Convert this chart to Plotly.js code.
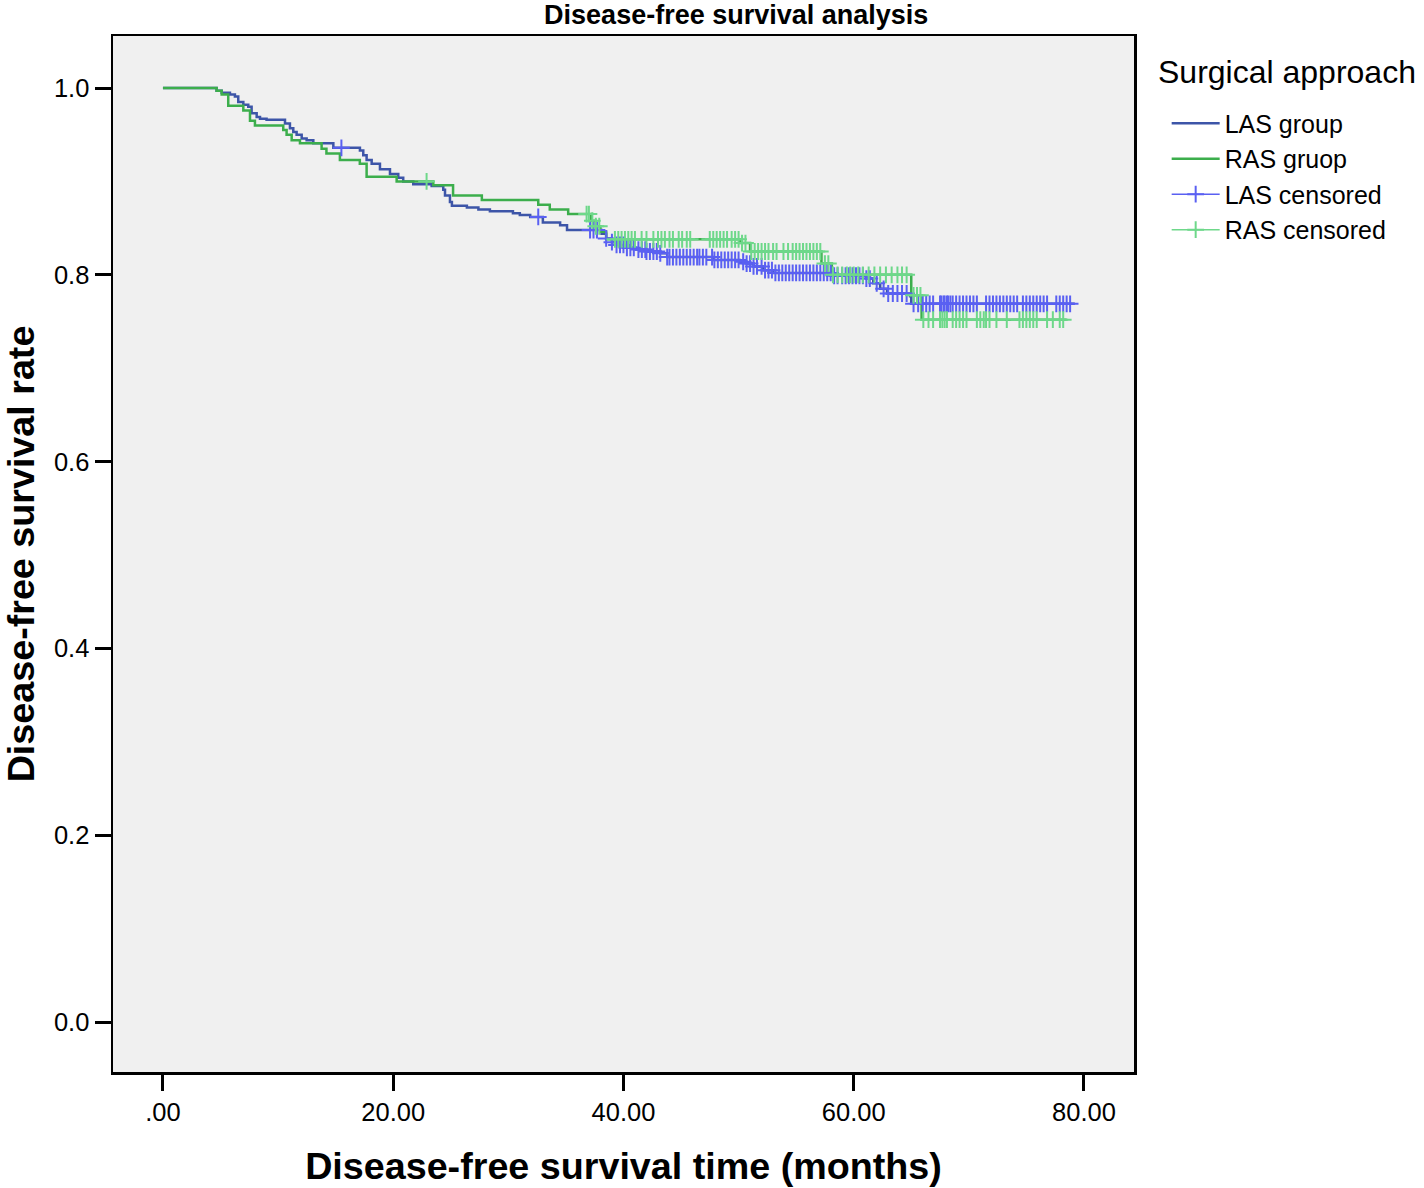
<!DOCTYPE html>
<html>
<head>
<meta charset="utf-8">
<script src="https://cdn.plot.ly/plotly-3.0.1.min.js"></script>
<style>html,body{margin:0;padding:0;background:#fff;}#chart{width:1424px;height:1188px;}</style>
</head>
<body>
<div id="chart"></div>
<script>
// LAS group (event times in months, survival after each step)
const lasTimes = [0, 4.66, 5.1, 5.82, 6.25, 6.54, 6.98, 7.41, 7.70, 8.14, 8.43, 9.0, 10.6, 11.03, 11.32, 11.61, 12.05, 12.48, 13.06, 14.8, 17.11, 17.4, 17.69, 18.13, 18.85, 19.72, 20.44, 20.87, 21.74, 23.34, 24.35, 24.5, 24.93, 25.1, 26.4, 27.4, 28.4, 30.4, 31.0, 31.9, 33.0, 34.5, 35.1, 38.1, 38.5, 39.0, 39.4, 40.3, 41.1, 42.0, 43.2, 43.8, 47.8, 50.1, 50.7, 51.3, 52.1, 53.0, 58.2, 61.1, 61.7, 62.3, 62.9, 64.9, 65.0, 79.2];
const lasSurv  = [1.0, 0.997, 0.995, 0.993, 0.991, 0.985, 0.982, 0.980, 0.973, 0.969, 0.967, 0.966, 0.962, 0.957, 0.953, 0.950, 0.946, 0.944, 0.941, 0.936, 0.933, 0.928, 0.923, 0.919, 0.913, 0.908, 0.904, 0.900, 0.897, 0.895, 0.891, 0.885, 0.878, 0.874, 0.872, 0.870, 0.868, 0.866, 0.864, 0.862, 0.856, 0.853, 0.848, 0.844, 0.839, 0.835, 0.832, 0.829, 0.827, 0.825, 0.823, 0.819, 0.816, 0.814, 0.812, 0.809, 0.805, 0.802, 0.799, 0.796, 0.791, 0.785, 0.780, 0.777, 0.769, 0.769];

// RAS group
const rasTimes = [0, 4.66, 5.1, 5.67, 6.98, 7.56, 7.99, 10.45, 10.74, 11.18, 11.9, 13.78, 14.2, 15.37, 17.1, 17.69, 20.3, 23.48, 25.2, 27.7, 32.6, 33.6, 35.2, 37.2, 37.6, 38.0, 38.5, 50.1, 51.0, 57.2, 58.1, 65.0, 65.9, 78.5];
const rasSurv  = [1.0, 0.997, 0.993, 0.981, 0.976, 0.965, 0.960, 0.955, 0.950, 0.944, 0.941, 0.935, 0.930, 0.923, 0.919, 0.905, 0.900, 0.896, 0.885, 0.880, 0.875, 0.870, 0.865, 0.858, 0.852, 0.846, 0.838, 0.834, 0.825, 0.812, 0.800, 0.778, 0.752, 0.752];

// Censored times
const lasCensored = [15.5, 32.6, 37.1, 37.4, 37.7, 38.5, 39.0, 39.4, 39.7, 40.0, 40.3, 40.6, 40.9, 41.3, 41.6, 41.9, 42.0, 42.3, 42.6, 42.9, 43.2, 43.8, 44.0, 44.3, 44.6, 44.9, 45.2, 45.5, 45.8, 46.1, 46.4, 46.6, 46.9, 47.2, 47.7, 47.9, 48.2, 48.5, 48.8, 49.1, 49.4, 49.7, 50.0, 50.4, 50.7, 51.0, 51.3, 51.6, 52.0, 52.3, 52.6, 52.9, 53.2, 53.5, 53.8, 54.1, 54.4, 54.7, 55.0, 55.3, 55.6, 55.9, 56.2, 56.5, 56.8, 57.1, 57.4, 57.7, 58.0, 58.3, 58.6, 59.0, 59.3, 59.6, 59.9, 60.2, 60.5, 60.8, 61.1, 61.4, 62.0, 62.6, 63.0, 63.4, 63.8, 64.2, 64.6, 65.2, 65.6, 66.0, 66.3, 66.6, 66.9, 67.5, 67.6, 67.8, 67.9, 68.1, 68.2, 68.4, 68.6, 68.9, 69.2, 69.5, 69.8, 70.1, 70.4, 70.7, 71.5, 71.8, 72.1, 72.4, 72.7, 73.0, 73.3, 73.6, 73.9, 74.2, 74.7, 75.0, 75.3, 75.6, 75.9, 76.2, 76.5, 76.8, 77.6, 77.9, 78.2, 78.5, 78.8];
const rasCensored = [22.9, 36.8, 37.0, 37.3, 37.6, 37.9, 39.26, 39.55, 39.84, 40.13, 40.42, 40.71, 41.0, 41.58, 42.0, 42.6, 43.0, 43.3, 43.6, 44.0, 44.3, 44.8, 45.1, 45.5, 45.8, 47.5, 47.8, 48.1, 48.4, 48.7, 49.0, 49.4, 49.7, 50.0, 50.3, 50.6, 51.1, 51.4, 51.7, 52.0, 52.3, 52.6, 53.0, 53.3, 53.9, 54.3, 54.7, 55.0, 55.3, 55.6, 55.9, 56.2, 56.5, 56.8, 57.1, 57.5, 57.8, 58.2, 58.6, 59.0, 59.4, 59.7, 60.0, 60.4, 60.8, 61.3, 61.8, 62.3, 62.8, 63.3, 63.8, 64.2, 64.6, 65.2, 65.5, 65.8, 66.05, 66.5, 66.9, 67.5, 67.7, 67.9, 68.1, 68.6, 68.9, 69.2, 69.5, 69.8, 70.7, 71.0, 71.3, 71.5, 71.8, 72.4, 73.3, 74.4, 74.7, 75.0, 75.3, 75.6, 75.9, 76.8, 77.3, 77.9, 78.2];

const xTickVals = [0, 20, 40, 60, 80];
const xTickText = ['.00', '20.00', '40.00', '60.00', '80.00'];
const yTickVals = [0, 0.2, 0.4, 0.6, 0.8, 1.0];
const yTickText = ['0.0', '0.2', '0.4', '0.6', '0.8', '1.0'];

function survAt(times, surv, t) {
  let s = surv[0];
  for (let i = 0; i < times.length; i++) { if (times[i] <= t) s = surv[i]; else break; }
  return s;
}
function censorXY(cens, times, surv) {
  const x = [], y = [];
  cens.forEach(function (t) { x.push(t); y.push(survAt(times, surv, t)); x.push(null); y.push(null); });
  return {x: x, y: y};
}

const FONT = 'Liberation Sans, Arial, Helvetica, sans-serif';
const lasC = censorXY(lasCensored, lasTimes, lasSurv);
const rasC = censorXY(rasCensored, rasTimes, rasSurv);

const traces = [
  {x: lasTimes, y: lasSurv, type: 'scatter', mode: 'lines', name: 'LAS group',
   line: {shape: 'hv', color: '#3d55a8', width: 2.5}},
  {x: rasTimes, y: rasSurv, type: 'scatter', mode: 'lines', name: 'RAS gruop',
   line: {shape: 'hv', color: '#3cae4c', width: 2.5}},
  {x: lasC.x, y: lasC.y, type: 'scatter', mode: 'lines+markers', name: 'LAS censored', connectgaps: false,
   line: {color: '#5a60f2', width: 1.5},
   marker: {symbol: 'cross-thin', size: 12, color: '#5a60f2', line: {color: '#5a60f2', width: 2}}},
  {x: rasC.x, y: rasC.y, type: 'scatter', mode: 'lines+markers', name: 'RAS censored', connectgaps: false,
   line: {color: '#6ed88a', width: 1.5},
   marker: {symbol: 'cross-thin', size: 12, color: '#6ed88a', line: {color: '#6ed88a', width: 2}}}
];

const layout = {
  width: 1424, height: 1188,
  margin: {l: 113, r: 290, t: 36, b: 116, pad: 0},
  paper_bgcolor: '#ffffff', plot_bgcolor: '#f0f0f0',
  font: {family: FONT, color: '#000000', size: 25},
  title: {text: '<b>Disease-free survival analysis</b>', font: {family: FONT, size: 27, color: '#000'},
          x: 0.517, xref: 'container', xanchor: 'center', y: 1 - 15 / 1188, yref: 'container', yanchor: 'middle'},
  xaxis: {range: [-4.34, 84.35], tickvals: xTickVals, ticktext: xTickText,
          showgrid: false, zeroline: false, showline: true, mirror: true, linecolor: '#000', linewidth: 2.5,
          ticks: 'outside', ticklen: 16, tickwidth: 3, tickcolor: '#000',
          tickfont: {family: FONT, size: 25.5, color: '#000'},
          title: {text: '<b>Disease-free survival time (months)</b>', font: {family: FONT, size: 37.7, color: '#000'}, standoff: 28}},
  yaxis: {range: [-0.0535, 1.0557], tickvals: yTickVals, ticktext: yTickText,
          showgrid: false, zeroline: false, showline: true, mirror: true, linecolor: '#000', linewidth: 2.5,
          ticks: 'outside', ticklen: 16, tickwidth: 3, tickcolor: '#000',
          tickfont: {family: FONT, size: 25.5, color: '#000'},
          title: {text: '<b>Disease-free survival rate</b>', font: {family: FONT, size: 37.7, color: '#000'}, standoff: 18}},
  showlegend: true,
  legend: {x: 1.032, xanchor: 'left', y: 0.9378, yanchor: 'top', bgcolor: 'rgba(0,0,0,0)',
           font: {family: FONT, size: 25, color: '#000'},
           tracegroupgap: 0, itemwidth: 48},
  annotations: [{text: 'Surgical approach', xref: 'paper', yref: 'paper', x: 1.0215, y: (1072 - 72) / 1036,
                 xanchor: 'left', yanchor: 'middle', showarrow: false,
                 font: {family: FONT, size: 32, color: '#000'}}]
};

Plotly.newPlot('chart', traces, layout, {displayModeBar: false, staticPlot: true});
</script>
</body>
</html>
